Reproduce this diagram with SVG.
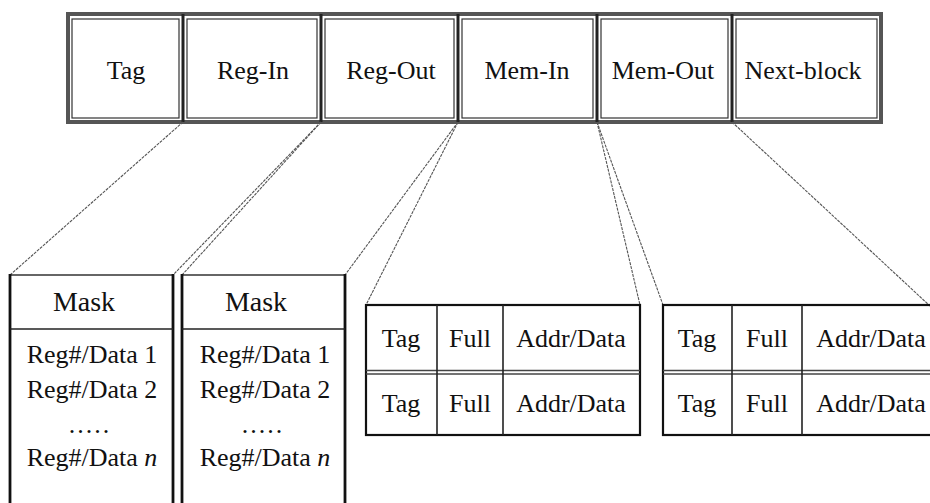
<svg xmlns="http://www.w3.org/2000/svg" width="930" height="503" viewBox="0 0 930 503">
  <style>
    .lbl { font-family: "Liberation Serif", "Times New Roman", serif; font-size: 26px; fill: #111; text-anchor: middle; }
    .mask { font-size: 28px; }
    .outer { fill: none; stroke: #555; stroke-width: 4; }
    .div { stroke: #222; stroke-width: 3; }
    .inner { fill: none; stroke: #333; stroke-width: 1.2; }
    .side { stroke: #111; stroke-width: 2.8; }
    .top { stroke: #333; stroke-width: 1.6; }
    .box { fill: none; stroke: #111; stroke-width: 2.2; }
    .rule { stroke: #222; stroke-width: 1.6; }
    .thin { stroke: #444; stroke-width: 1.3; }
    .conn { stroke: #555; stroke-width: 1.1; stroke-dasharray: 3 1; fill: none; }
  </style>
  <rect width="930" height="503" fill="#fff"/>

  <!-- block header: six fields with double borders -->
  <g id="header">
    <rect class="outer" x="68" y="14" width="813" height="108"/>
    <line class="div" x1="183" y1="14" x2="183" y2="122"/>
    <line class="div" x1="321" y1="14" x2="321" y2="122"/>
    <line class="div" x1="458" y1="14" x2="458" y2="122"/>
    <line class="div" x1="597" y1="14" x2="597" y2="122"/>
    <line class="div" x1="732" y1="14" x2="732" y2="122"/>
  </g>
  <g id="field-tag">
    <rect class="inner" x="72" y="19" width="107" height="99"/>
    <text class="lbl" x="126" y="79">Tag</text>
  </g>
  <g id="field-reg-in">
    <rect class="inner" x="187" y="19" width="130" height="99"/>
    <text class="lbl" x="253" y="79">Reg-In</text>
  </g>
  <g id="field-reg-out">
    <rect class="inner" x="325" y="19" width="129" height="99"/>
    <text class="lbl" x="391" y="79">Reg-Out</text>
  </g>
  <g id="field-mem-in">
    <rect class="inner" x="462" y="19" width="131" height="99"/>
    <text class="lbl" x="527" y="79">Mem-In</text>
  </g>
  <g id="field-mem-out">
    <rect class="inner" x="601" y="19" width="127" height="99"/>
    <text class="lbl" x="663" y="79">Mem-Out</text>
  </g>
  <g id="field-next-block">
    <rect class="inner" x="736" y="19" width="141" height="99"/>
    <text class="lbl" x="803" y="79">Next-block</text>
  </g>

  <!-- fan-out lines from the header fields to their expansions -->
  <g id="connectors">
    <line class="conn" x1="183" y1="122" x2="10" y2="275"/>
    <line class="conn" x1="321" y1="122" x2="173" y2="275"/>
    <line class="conn" x1="321" y1="122" x2="182" y2="275"/>
    <line class="conn" x1="458" y1="122" x2="345" y2="275"/>
    <line class="conn" x1="458" y1="122" x2="366" y2="305"/>
    <line class="conn" x1="597" y1="122" x2="640" y2="305"/>
    <line class="conn" x1="597" y1="122" x2="663" y2="305"/>
    <line class="conn" x1="732" y1="122" x2="930" y2="306"/>
  </g>

  <!-- register lists (open at the bottom) -->
  <g id="reg-in-list">
    <line class="top" x1="10" y1="275" x2="173" y2="275"/>
    <line class="side" x1="10" y1="274" x2="10" y2="503"/>
    <line class="side" x1="173" y1="274" x2="173" y2="503"/>
    <line class="rule" x1="10" y1="329" x2="173" y2="329"/>
    <text class="lbl mask" x="84" y="311">Mask</text>
    <text class="lbl" x="92" y="363">Reg#/Data 1</text>
    <text class="lbl" x="92" y="398">Reg#/Data 2</text>
    <text class="lbl" x="90" y="433" font-size="18" letter-spacing="2">.....</text>
    <text class="lbl" x="92" y="466">Reg#/Data <tspan font-style="italic">n</tspan></text>
  </g>
  <g id="reg-out-list">
    <line class="top" x1="182" y1="275" x2="345" y2="275"/>
    <line class="side" x1="182" y1="274" x2="182" y2="503"/>
    <line class="side" x1="345" y1="274" x2="345" y2="503"/>
    <line class="rule" x1="182" y1="329" x2="345" y2="329"/>
    <text class="lbl mask" x="256" y="311">Mask</text>
    <text class="lbl" x="265" y="363">Reg#/Data 1</text>
    <text class="lbl" x="265" y="398">Reg#/Data 2</text>
    <text class="lbl" x="263" y="433" font-size="18" letter-spacing="2">.....</text>
    <text class="lbl" x="265" y="466">Reg#/Data <tspan font-style="italic">n</tspan></text>
  </g>

  <!-- memory entry tables -->
  <g id="mem-in-table">
    <rect class="box" x="366" y="305" width="274" height="130"/>
    <line class="thin" x1="366" y1="370.5" x2="640" y2="370.5"/>
    <line class="thin" x1="366" y1="374" x2="640" y2="374"/>
    <line class="rule" x1="437" y1="305" x2="437" y2="435"/>
    <line class="rule" x1="503" y1="305" x2="503" y2="435"/>
    <text class="lbl" x="401" y="347">Tag</text>
    <text class="lbl" x="470" y="347">Full</text>
    <text class="lbl" x="571" y="347">Addr/Data</text>
    <text class="lbl" x="401" y="412">Tag</text>
    <text class="lbl" x="470" y="412">Full</text>
    <text class="lbl" x="571" y="412">Addr/Data</text>
  </g>
  <g id="mem-out-table">
    <rect class="box" x="663" y="305" width="274" height="130"/>
    <line class="thin" x1="663" y1="370.5" x2="937" y2="370.5"/>
    <line class="thin" x1="663" y1="374" x2="937" y2="374"/>
    <line class="rule" x1="732" y1="305" x2="732" y2="435"/>
    <line class="rule" x1="802" y1="305" x2="802" y2="435"/>
    <text class="lbl" x="697" y="347">Tag</text>
    <text class="lbl" x="767" y="347">Full</text>
    <text class="lbl" x="871" y="347">Addr/Data</text>
    <text class="lbl" x="697" y="412">Tag</text>
    <text class="lbl" x="767" y="412">Full</text>
    <text class="lbl" x="871" y="412">Addr/Data</text>
  </g>
</svg>
